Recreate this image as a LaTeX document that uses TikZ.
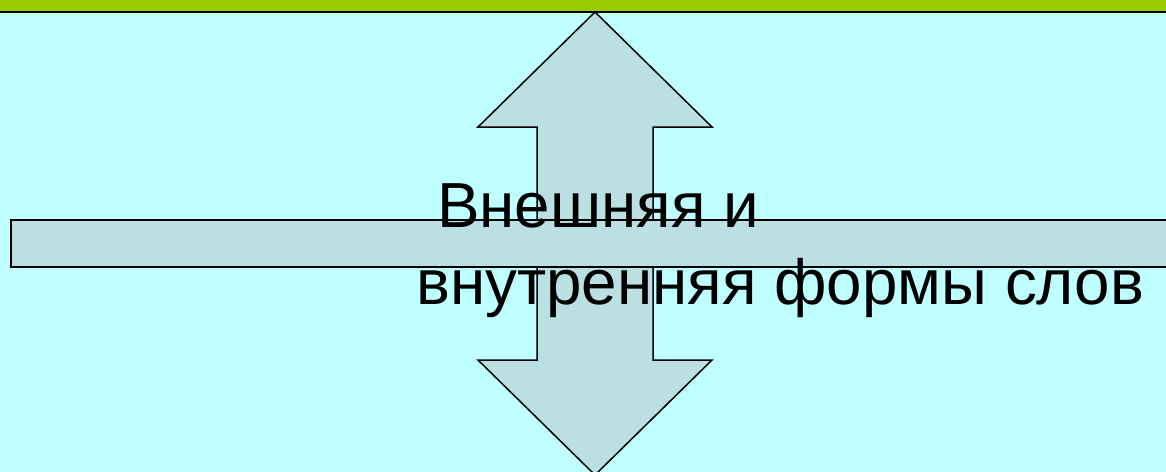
\documentclass[tikz,border=0pt]{standalone}
\usepackage{fontspec}
\setmainfont{Liberation Sans}
\usepackage{xcolor}
\usetikzlibrary{positioning}
\definecolor{slidecyan}{RGB}{192, 255, 255}
\definecolor{bandgreen}{RGB}{153, 204, 0}
\definecolor{arrowfill}{RGB}{187, 224, 227}

\begin{document}
\begin{tikzpicture}[x=0.03cm, y=-0.03cm,
    shapeline/.style={draw=black, line width=0.045cm, fill=arrowfill, line join=miter},
    wordtext/.style={inner sep=0pt, font=\fontsize{54.4}{65}\selectfont}
]
    % background and top band
    \fill[slidecyan] (0,0) rectangle (1166,472);
    \useasboundingbox (0,0) rectangle (1166,472);
    \fill[bandgreen] (0,0) rectangle (1166,12);
    \draw[line width=0.06cm] (0,12) -- (1166,12);
    % vertical double arrow
    \draw[shapeline] (595,12) -- (712,127) -- (653,127) -- (653,360) -- (712,360)
        -- (595,475) -- (478,360) -- (537,360) -- (537,127) -- (478,127) -- cycle;
    % horizontal bar
    \draw[shapeline, line width=0.055cm] (11,220) rectangle (1190,267);
    % title text
    \node[wordtext, anchor=base west] (firstline) at (437,227) {Внешняя и};
    \node[wordtext, anchor=base west] (secondline) at (416,304) {внутренняя формы слов};
\end{tikzpicture}
\end{document}
